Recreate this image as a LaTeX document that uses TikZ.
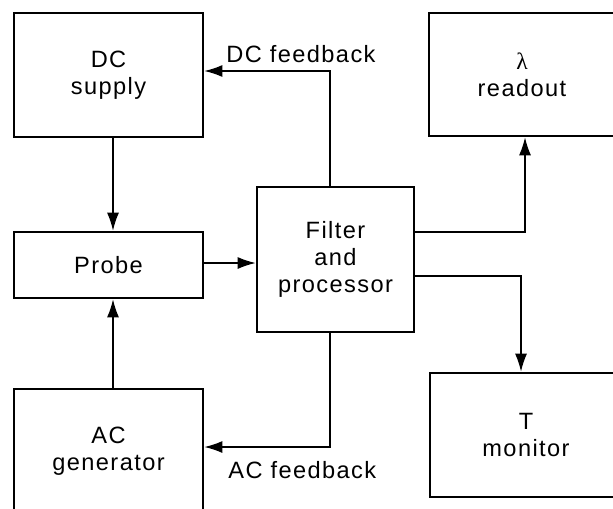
\documentclass[tikz,border=0pt]{standalone}
\usepackage{fontspec}
\setmainfont{Liberation Sans}[LetterSpace=6]
\newfontfamily\grk{Liberation Serif}
\usetikzlibrary{positioning,calc,arrows.meta}

\begin{document}
\begin{tikzpicture}[x=0.5pt,y=-0.5pt,
  blk/.style={draw,line width=1.4pt,inner sep=0pt,align=center,
    font=\fontsize{11.8}{13.5}\selectfont},
  lbl/.style={inner sep=0pt,font=\fontsize{11.8}{13.5}\selectfont},
  arr/.style={line width=0.6pt,-{Latex[length=9pt,width=6pt]}}]
\useasboundingbox (0,0) rectangle (613,508);
\node[blk,minimum width=94.5pt,minimum height=62pt] (dc) at (108.5,75) {DC\\supply};
\node[blk,minimum width=94.5pt,minimum height=33pt] (probe) at (108.5,265) {Probe};
\node[blk,minimum width=94.5pt,minimum height=62pt] (ac) at (108.5,451) {AC\\generator};
\node[blk,minimum width=78.5pt,minimum height=72.5pt] (filter) at (335.5,259.5) {Filter\\and\\processor};
\node[blk,minimum width=93pt,minimum height=61.5pt] (lambda) at (522,74.5) {{\grk λ}\\readout};
\node[blk,minimum width=96pt,minimum height=62pt] (tmon) at (526,435) {T\\monitor};
\node[lbl,anchor=base west] (dcfb) at (226,62) {DC feedback};
\node[lbl,anchor=base west] (acfb) at (228,478) {AC feedback};
\draw[arr] ([xshift=2.25pt]dc.south) -- ([xshift=2.25pt]probe.north);
\draw[arr] ([xshift=2.25pt]ac.north) -- ([xshift=2.25pt]probe.south);
\draw[arr] ([yshift=1pt]probe.east) -- ([yshift=1pt]probe.east -| filter.west);
\draw[arr] ([xshift=-2.75pt]filter.north) |- ([yshift=2pt]dc.east);
\draw[arr] ([xshift=-2.75pt]filter.south) |- ([yshift=2pt]ac.east);
\draw[arr] ([yshift=13.75pt]filter.east) -| ([xshift=1.5pt]lambda.south);
\draw[arr] ([yshift=-8.25pt]filter.east) -| ([xshift=-2.5pt]tmon.north);
\end{tikzpicture}
\end{document}
